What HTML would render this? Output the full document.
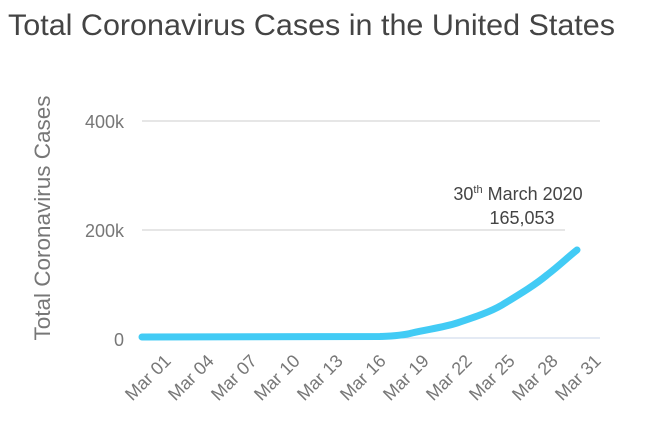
<!DOCTYPE html>
<html><head><style>
body{margin:0;background:#fff;}
svg{display:block;font-family:"Liberation Sans",sans-serif;}
</style></head><body>
<svg width="648" height="432" viewBox="0 0 648 432">
<text x="8" y="35" font-size="30" fill="#444" textLength="607" lengthAdjust="spacingAndGlyphs">Total Coronavirus Cases in the United States</text>
<line x1="142" y1="121" x2="600" y2="121" stroke="#e6e6e6" stroke-width="2"/>
<line x1="142" y1="230" x2="565" y2="230" stroke="#e6e6e6" stroke-width="2"/>
<line x1="142" y1="338" x2="600" y2="338" stroke="#c8d4ea" stroke-width="1"/>
<text x="124" y="128" font-size="18" fill="#777" text-anchor="end">400k</text>
<text x="124" y="237" font-size="18" fill="#777" text-anchor="end">200k</text>
<text x="124" y="346" font-size="18" fill="#777" text-anchor="end">0</text>
<text transform="translate(50,218) rotate(-90)" font-size="22" fill="#777" text-anchor="middle" textLength="245" lengthAdjust="spacingAndGlyphs">Total Coronavirus Cases</text>
<path d="M142,337 L380,336.5 C395,336 405,335 412,333 C430,329 445,327 457,323 C475,317 490,312 502,305 C520,294 535,285 547,275 C560,265 568,257 577,250" fill="none" stroke="#42cbf5" stroke-width="7" stroke-linecap="round" stroke-linejoin="round"/>
<text x="518" y="200" font-size="18" fill="#444" text-anchor="middle">30<tspan font-size="11" dy="-7">th</tspan><tspan dy="7"> March 2020</tspan></text>
<text x="522" y="224" font-size="18" fill="#444" text-anchor="middle">165,053</text>
<g font-size="18" fill="#777" text-anchor="end">
<text transform="translate(172,362) rotate(-45)">Mar 01</text>
<text transform="translate(215,362) rotate(-45)">Mar 04</text>
<text transform="translate(258,362) rotate(-45)">Mar 07</text>
<text transform="translate(301,362) rotate(-45)">Mar 10</text>
<text transform="translate(344,362) rotate(-45)">Mar 13</text>
<text transform="translate(387,362) rotate(-45)">Mar 16</text>
<text transform="translate(430,362) rotate(-45)">Mar 19</text>
<text transform="translate(473,362) rotate(-45)">Mar 22</text>
<text transform="translate(516,362) rotate(-45)">Mar 25</text>
<text transform="translate(559,362) rotate(-45)">Mar 28</text>
<text transform="translate(602,362) rotate(-45)">Mar 31</text>
</g>
</svg>
</body></html>
